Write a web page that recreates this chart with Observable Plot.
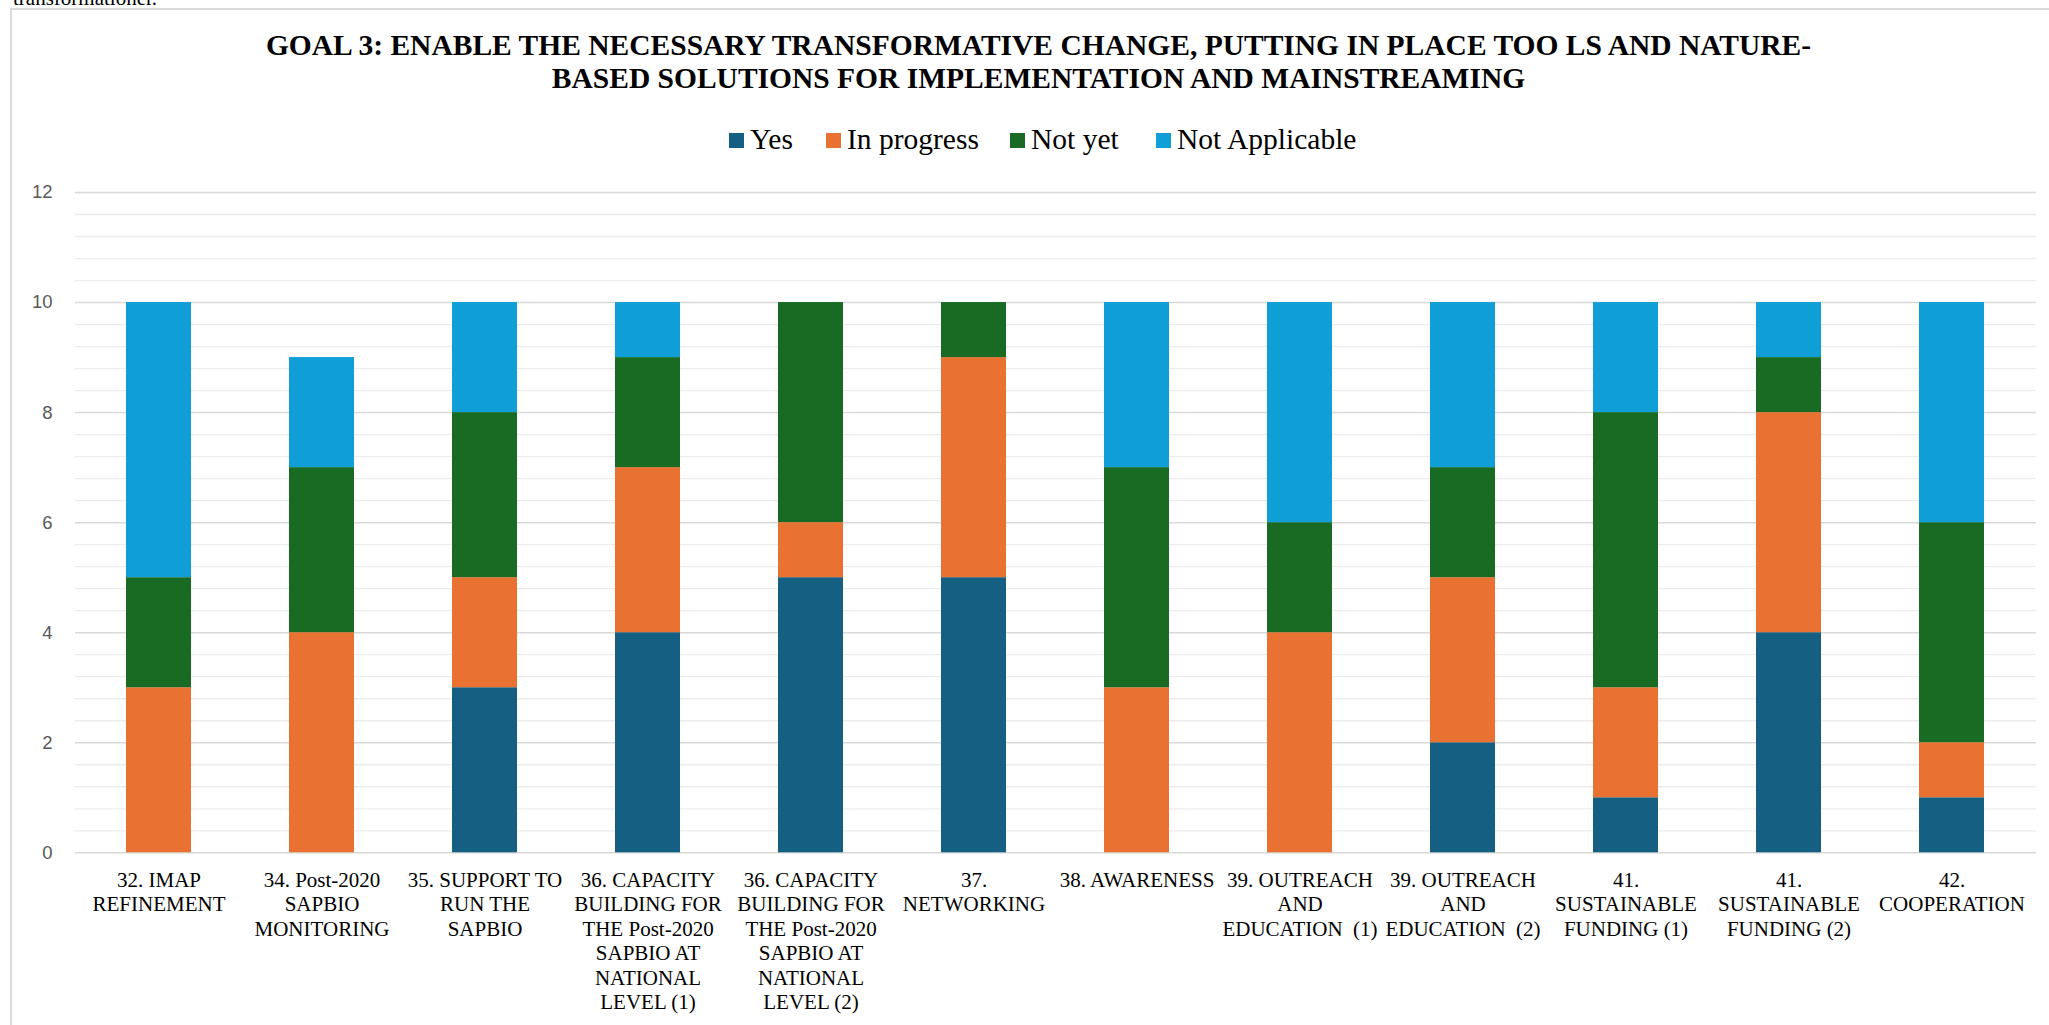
<!DOCTYPE html>
<html>
<head>
<meta charset="utf-8">
<script src="https://cdn.jsdelivr.net/npm/d3@7"></script>
<script src="https://cdn.jsdelivr.net/npm/@observablehq/plot@0.6"></script>
<style>
  html, body { margin: 0; padding: 0; background: #fff; overflow: hidden; }
  #page { position: relative; width: 2049px; height: 1025px; overflow: hidden; background: #fff; }
  #clipText { position: absolute; left: 13px; top: -14px; font-family: "Liberation Serif", "Times New Roman", serif; font-size: 21px; color: #000; white-space: nowrap; }
  #frame { position: absolute; left: 10px; top: 8px; width: 2100px; height: 1100px; border-left: 2px solid #d9d9d9; border-top: 2px solid #d9d9d9; }
  #title { position: absolute; left: 0; width: 2077px; top: 29px; text-align: center; font-family: "Liberation Serif", "Times New Roman", serif; font-weight: bold; font-size: 29.5px; line-height: 33px; color: #000; }
  #legend { position: absolute; left: 0; top: 0; font-family: "Liberation Serif", "Times New Roman", serif; font-size: 29.5px; line-height: 33px; white-space: nowrap; color: #000; }
  #legend .item { position: absolute; top: 123px; }
  #legend .sw { display: inline-block; width: 15px; height: 15px; margin-right: 6px; vertical-align: 1px; }
  #chart { position: absolute; left: 0; top: 170px; }
</style>
</head>
<body>
<div id="page">
  <div id="clipText">transformationer.</div>
  <div id="frame"></div>
  <div id="title"></div>
  <div id="legend"></div>
  <div id="chart"></div>
</div>
<script>
const titleLines = [
  "GOAL 3: ENABLE THE NECESSARY TRANSFORMATIVE CHANGE, PUTTING IN PLACE TOO LS AND NATURE-",
  "BASED SOLUTIONS FOR IMPLEMENTATION AND MAINSTREAMING"
];
const categories = [
  "32. IMAP REFINEMENT",
  "34. Post-2020 SAPBIO MONITORING",
  "35. SUPPORT TO RUN THE SAPBIO",
  "36. CAPACITY BUILDING FOR THE Post-2020 SAPBIO AT NATIONAL LEVEL (1)",
  "36. CAPACITY BUILDING FOR THE Post-2020 SAPBIO AT NATIONAL LEVEL (2)",
  "37. NETWORKING",
  "38. AWARENESS",
  "39. OUTREACH AND EDUCATION  (1)",
  "39. OUTREACH AND EDUCATION  (2)",
  "41. SUSTAINABLE FUNDING (1)",
  "41. SUSTAINABLE FUNDING (2)",
  "42. COOPERATION"
];
const tickLabels = [
  "32. IMAP\nREFINEMENT",
  "34. Post-2020\nSAPBIO\nMONITORING",
  "35. SUPPORT TO\nRUN THE\nSAPBIO",
  "36. CAPACITY\nBUILDING FOR\nTHE Post-2020\nSAPBIO AT\nNATIONAL\nLEVEL (1)",
  "36. CAPACITY\nBUILDING FOR\nTHE Post-2020\nSAPBIO AT\nNATIONAL\nLEVEL (2)",
  "37.\nNETWORKING",
  "38. AWARENESS",
  "39. OUTREACH\nAND\nEDUCATION  (1)",
  "39. OUTREACH\nAND\nEDUCATION  (2)",
  "41.\nSUSTAINABLE\nFUNDING (1)",
  "41.\nSUSTAINABLE\nFUNDING (2)",
  "42.\nCOOPERATION"
];
const seriesNames = ["Yes", "In progress", "Not yet", "Not Applicable"];
const seriesColors = ["#156082", "#E97132", "#196B24", "#0F9ED5"];
const yes =           [0, 0, 3, 4, 5, 5, 0, 0, 2, 1, 4, 1];
const inProgress =    [3, 4, 2, 3, 1, 4, 3, 4, 3, 2, 4, 1];
const notYet =        [2, 3, 3, 2, 4, 1, 4, 2, 2, 5, 1, 4];
const notApplicable = [5, 2, 2, 1, 0, 0, 3, 4, 3, 2, 1, 4];
const yTicks = [0, 2, 4, 6, 8, 10, 12];
const legendLeft = [729, 826, 1010, 1156];

// title
document.getElementById("title").innerHTML = titleLines.map(t => `<div>${t}</div>`).join("");
// legend
document.getElementById("legend").innerHTML = seriesNames.map((s, i) =>
  `<span class="item" style="left:${legendLeft[i]}px"><span class="sw" style="background:${seriesColors[i]}"></span>${s}</span>`).join("");

const seriesValues = [yes, inProgress, notYet, notApplicable];
const data = [];
categories.forEach((c, i) => {
  seriesNames.forEach((s, j) => data.push({cat: c, status: s, value: seriesValues[j][i]}));
});
const minorTicks = d3.range(0, 12.001, 0.4).filter(v => Math.abs(v / 2 - Math.round(v / 2)) > 1e-6);

const chart = Plot.plot({
  width: 2049,
  height: 855,
  marginTop: 22,
  marginBottom: 172.7,
  marginLeft: 75,
  marginRight: 13,
  style: {background: "transparent", overflow: "visible"},
  x: {domain: categories, paddingInner: 0.6, paddingOuter: 0.3, align: 0.5, axis: null},
  y: {domain: [0, 12], axis: null},
  color: {domain: seriesNames, range: seriesColors},
  marks: [
    Plot.ruleY(minorTicks, {stroke: "#ececec", strokeWidth: 1.3}),
    Plot.ruleY(yTicks, {stroke: "#d9d9d9", strokeWidth: 1.5}),
    Plot.barY(data, {x: "cat", y: "value", fill: "status"}),
    Plot.axisY({ticks: yTicks, tickSize: 0, tickPadding: 23, fontSize: 18.5, fontFamily: "Liberation Sans", fill: "#595959", label: null}),
    Plot.axisX({tickSize: 0, tickPadding: 17, fontSize: 21, fontFamily: "Liberation Serif", fill: "#000", lineHeight: 1.16,
      tickFormat: c => tickLabels[categories.indexOf(c)], label: null})
  ]
});
document.getElementById("chart").appendChild(chart);
</script>
</body>
</html>
